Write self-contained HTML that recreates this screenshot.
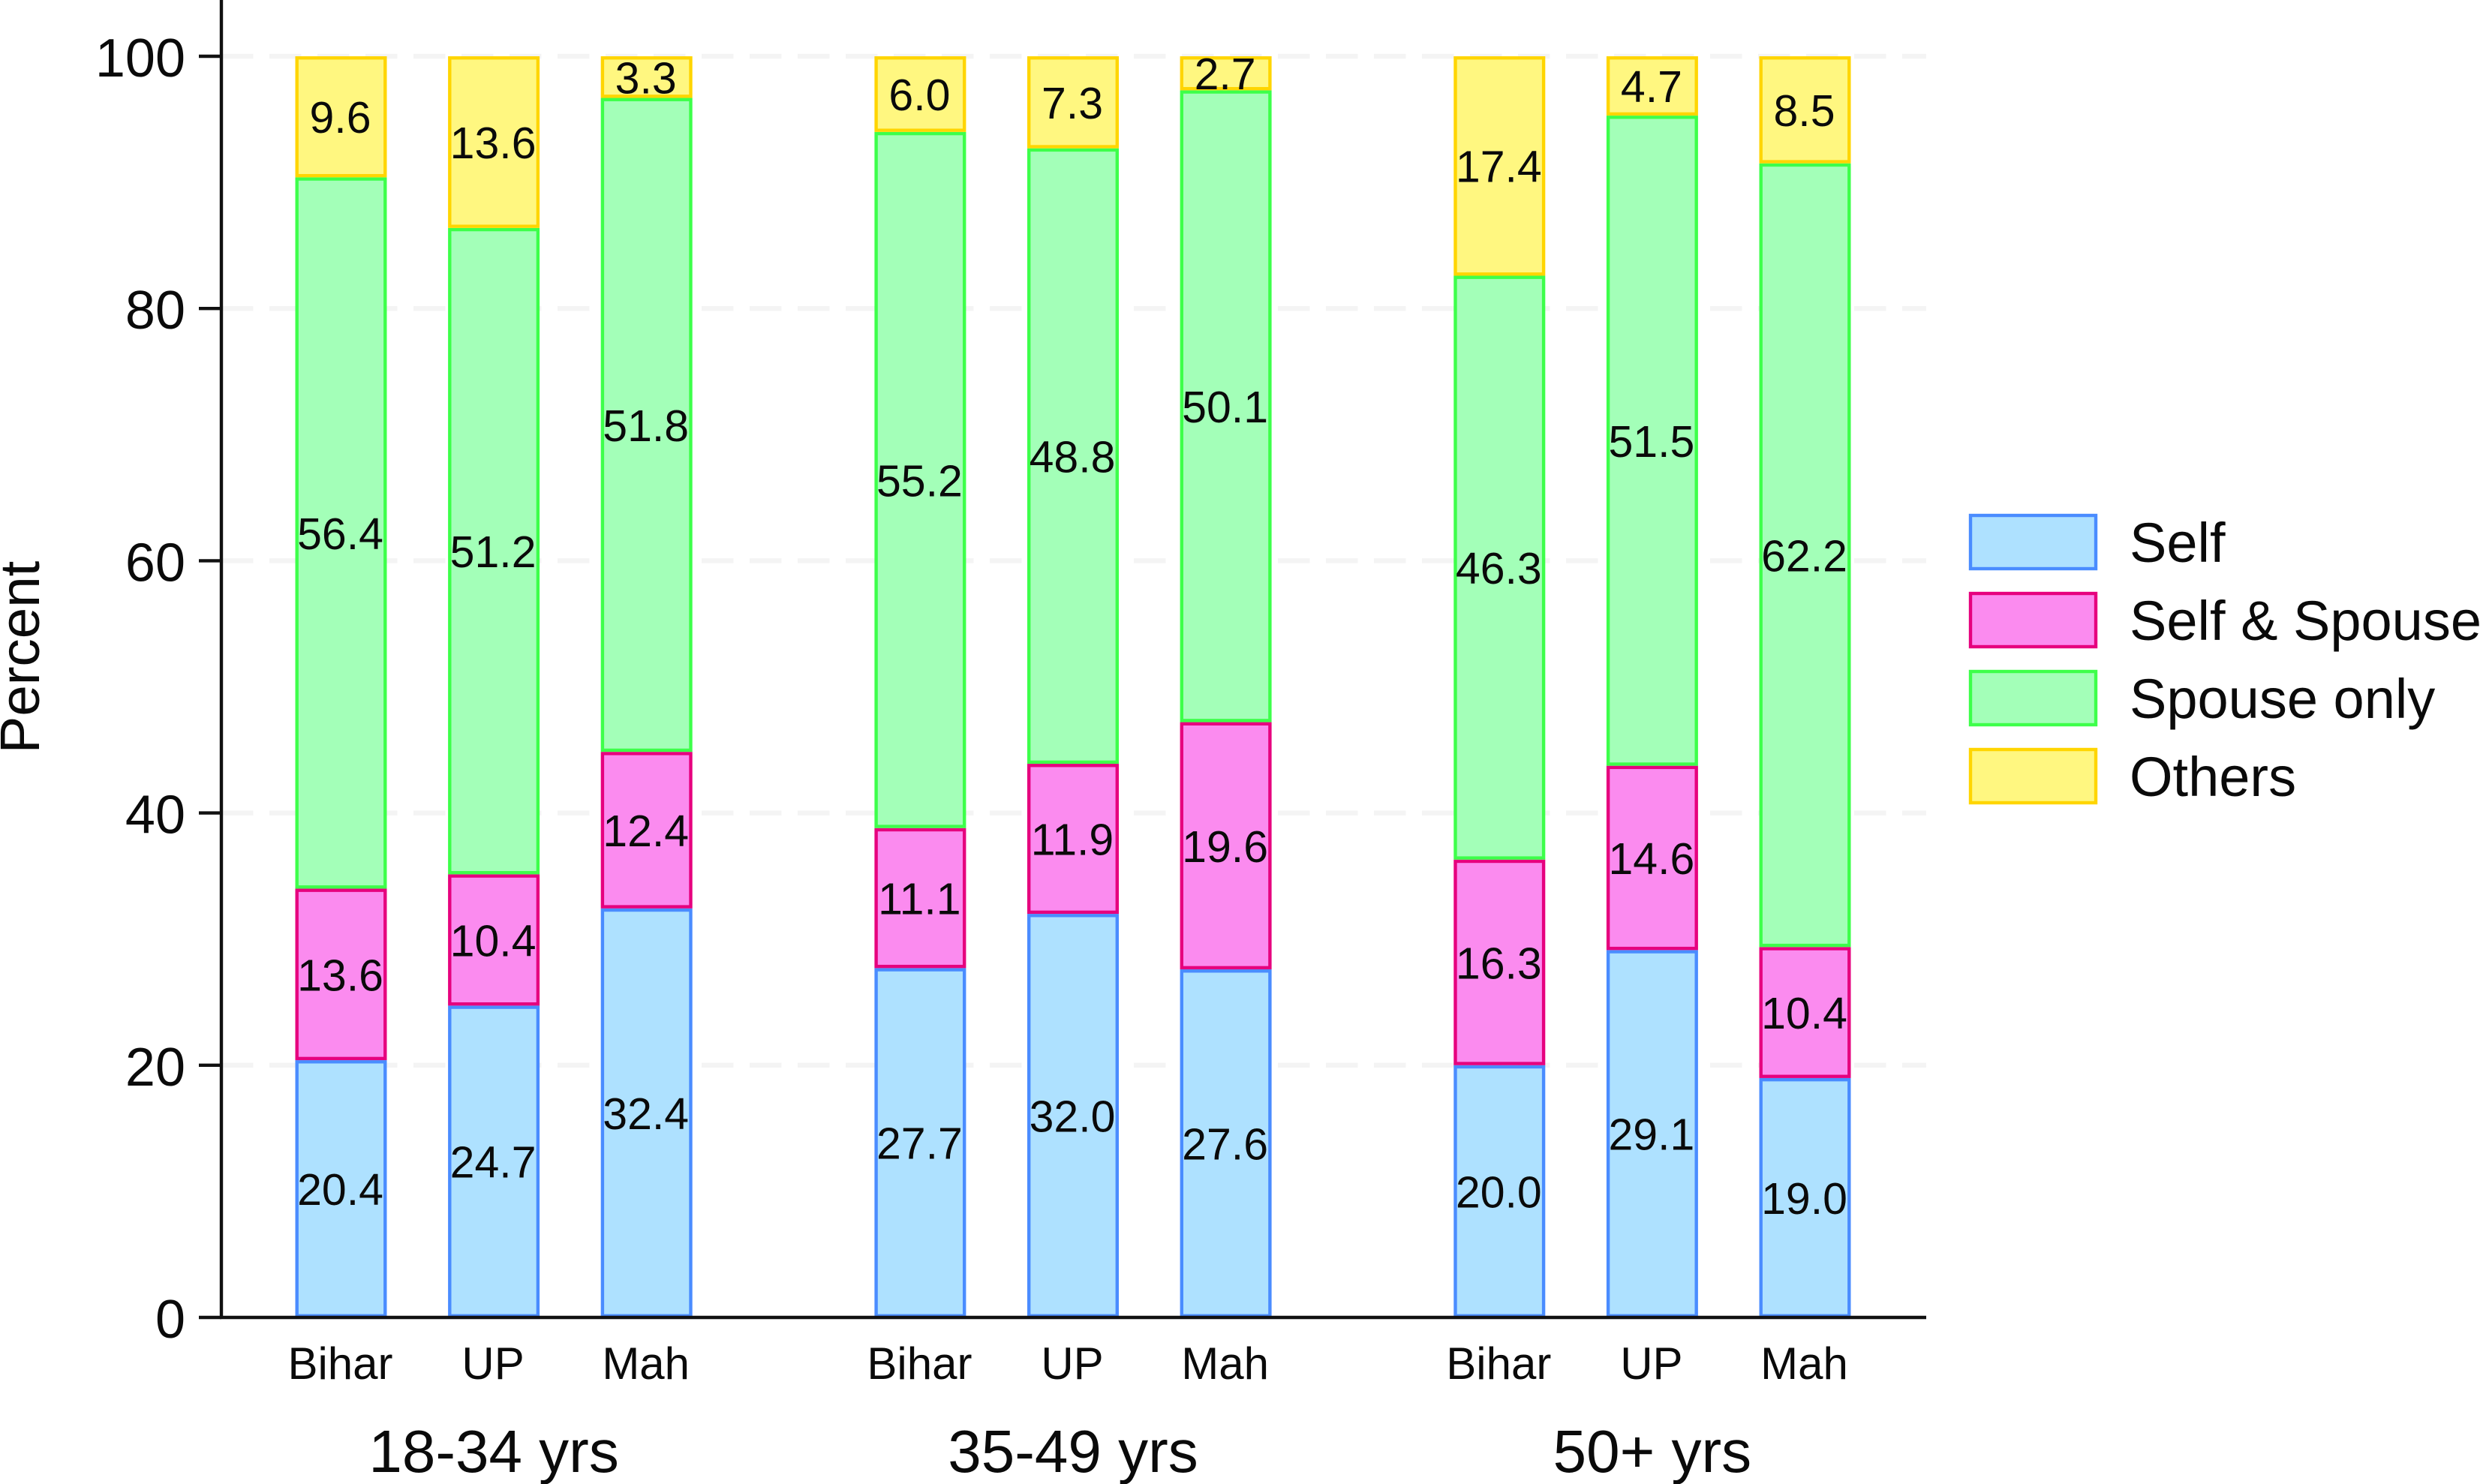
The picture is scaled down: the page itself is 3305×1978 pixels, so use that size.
<!DOCTYPE html>
<html lang="en">
<head>
<meta charset="utf-8">
<title>Stacked bar chart by age group and state</title>
<style>
html,body{margin:0;padding:0;background:#fff;width:3305px;height:1978px;overflow:hidden}
svg{display:block}
text{font-family:"Liberation Sans",Arial,sans-serif;fill:#0a0a0a}
</style>
</head>
<body>
<svg id="chart" xmlns="http://www.w3.org/2000/svg" width="3305" height="1978" viewBox="0 0 3305 1978">
  <rect x="0" y="0" width="3305" height="1978" fill="#ffffff"/>
  <g id="grid"></g>
  <g id="bars"></g>
  <g id="axes"></g>
  <g id="legend"></g>
  <text transform="translate(52,876) rotate(-90)" text-anchor="middle" font-size="74.5">Percent</text>
</svg>
<script>
const ageGroups = ["18-34 yrs", "35-49 yrs", "50+ yrs"];
const states = ["Bihar", "UP", "Mah"];
const yTicks = [0, 20, 40, 60, 80, 100];
const seriesNames = ["Self", "Self & Spouse", "Spouse only", "Others"];
const selfValues = [20.4, 24.7, 32.4, 27.7, 32.0, 27.6, 20.0, 29.1, 19.0];
const selfSpouseValues = [13.6, 10.4, 12.4, 11.1, 11.9, 19.6, 16.3, 14.6, 10.4];
const spouseOnlyValues = [56.4, 51.2, 51.8, 55.2, 48.8, 50.1, 46.3, 51.5, 62.2];
const othersValues = [9.6, 13.6, 3.3, 6.0, 7.3, 2.7, 17.4, 4.7, 8.5];
const seriesValues = [selfValues, selfSpouseValues, spouseOnlyValues, othersValues];
const seriesFills = ["#aee1ff", "#fb8bef", "#a3ffb8", "#fff780"];
const seriesStrokes = ["#4a8cff", "#e6007e", "#3dff4a", "#ffd500"];

const NS = "http://www.w3.org/2000/svg";
const y0 = 1756, y100 = 75;
const axisLeft = 295, axisRight = 2567;
const barW = 122, barStroke = 4.4;
function yScale(v) { return y0 - (y0 - y100) * v / 100; }
function xScale(groupIdx, stateIdx) { return 454.5 + 771.9 * groupIdx + 203.6 * stateIdx; }
function make(parent, tag, attrs, txt) {
  const el = document.createElementNS(NS, tag);
  for (const k in attrs) el.setAttribute(k, attrs[k]);
  if (txt !== undefined) el.textContent = txt;
  parent.appendChild(el);
  return el;
}
const grid = document.getElementById("grid");
const bars = document.getElementById("bars");
const axes = document.getElementById("axes");
const legend = document.getElementById("legend");

yTicks.forEach(function (t) {
  if (t > 0) {
    const gl = make(grid, "line", { x1: axisLeft, x2: axisRight, y1: yScale(t), y2: yScale(t), stroke: "#f4f4f4", "stroke-width": 6.5, "stroke-dasharray": "42.5 21.5" });
    
    
  }
});

ageGroups.forEach(function (g, gi) {
  states.forEach(function (s, si) {
    const idx = gi * states.length + si;
    const cx = xScale(gi, si);
    let total = 0;
    seriesValues.forEach(function (vals) { total += vals[idx]; });
    let cum = 0;
    seriesValues.forEach(function (vals, k) {
      const v = vals[idx];
      const top = yScale((cum + v) / total * 100);
      const bottom = yScale(cum / total * 100);
      cum += v;
      const r = make(bars, "rect", {
        x: cx - barW / 2 + barStroke / 2,
        y: top + barStroke / 2,
        width: barW - barStroke,
        height: Math.max(0, bottom - top - barStroke),
        fill: seriesFills[k],
        stroke: seriesStrokes[k],
        "stroke-width": barStroke
      });
      
      
    });
    cum = 0;
    seriesValues.forEach(function (vals, k) {
      const v = vals[idx];
      const mid = yScale((cum + v / 2) / total * 100);
      cum += v;
      const lab = make(bars, "text", { x: cx - 1, y: mid + 21.5, "text-anchor": "middle", "font-size": 59 }, v.toFixed(1));
      
      
    });
    const xl = make(axes, "text", { x: cx - 1, y: 1838, "text-anchor": "middle", "font-size": 60 }, s);
    
    
  });
  const gl = make(axes, "text", { x: xScale(gi, 1), y: 1962, "text-anchor": "middle", "font-size": 80 }, g);
  
  
});

const yAxis = make(axes, "line", { x1: axisLeft, x2: axisLeft, y1: 0, y2: y0 + 2, stroke: "#111", "stroke-width": 4.4 });


const xAxis = make(axes, "line", { x1: axisLeft - 2, x2: axisRight, y1: y0, y2: y0, stroke: "#111", "stroke-width": 4.4 });



yTicks.forEach(function (t) {
  const tk = make(axes, "line", { x1: 265, x2: axisLeft, y1: yScale(t), y2: yScale(t), stroke: "#111", "stroke-width": 4.4 });
  
  
  const tl = make(axes, "text", { x: 247, y: yScale(t) + 27, "text-anchor": "end", "font-size": 72 }, String(t));
  
  
});

seriesNames.forEach(function (n, k) {
  const top = 685 + k * 104;
  const sw = make(legend, "rect", { x: 2626, y: top + 2, width: 167, height: 71, fill: seriesFills[k], stroke: seriesStrokes[k], "stroke-width": 4.4 });
  
  
  const lt = make(legend, "text", { x: 2838, y: top + 64, "font-size": 74 }, n);
  
  
});
</script>
</body>
</html>
